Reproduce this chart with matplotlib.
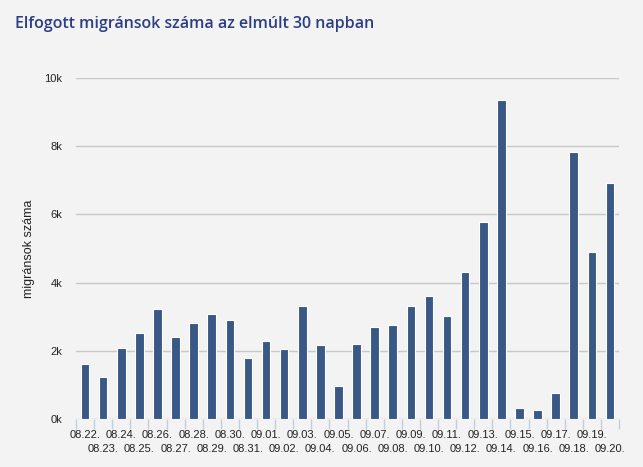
import matplotlib.pyplot as plt
import numpy as np

dates = ['08.22.', '08.23.', '08.24.', '08.25.', '08.26.', '08.27.', '08.28.', '08.29.',
         '08.30.', '08.31.', '09.01.', '09.02.', '09.03.', '09.04.', '09.05.', '09.06.',
         '09.07.', '09.08.', '09.09.', '09.10.', '09.11.', '09.12.', '09.13.', '09.14.',
         '09.15.', '09.16.', '09.17.', '09.18.', '09.19.', '09.20.']
migrants = [1620, 1220, 2070, 2520, 3240, 2400, 2810, 3080, 2900, 1780, 2280, 2040,
            3310, 2160, 980, 2190, 2690, 2750, 3310, 3610, 3020, 4300, 5770, 9360,
            330, 250, 750, 7830, 4890, 6920]
y_ticks = [0, 2000, 4000, 6000, 8000, 10000]
y_labels = ['0k', '2k', '4k', '6k', '8k', '10k']

plt.rcParams['font.family'] = ['Liberation Sans', 'DejaVu Sans']

bg = '#f3f3f3'
fig = plt.figure(figsize=(6.43, 4.67), dpi=100, facecolor=bg)
ax = fig.add_axes([76 / 643, 48 / 467, 543 / 643, 341 / 467], facecolor=bg)

x = np.arange(len(dates))
ax.bar(x, migrants, width=0.47, color='#3a5886', edgecolor='white', linewidth=0.8, zorder=3)

ax.set_xlim(-0.5, len(dates) - 0.5)
ax.set_ylim(0, 10000)
ax.set_yticks(y_ticks)
ax.set_yticklabels(y_labels, fontsize=8)
ax.grid(axis='y', color='#c8c8c8', linewidth=1, zorder=0)
for s in ax.spines.values():
    s.set_visible(False)
ax.tick_params(axis='y', length=0, pad=10, labelcolor='#222222')

# tick marks at category boundaries, labels in two rows
ax.set_xticks(np.arange(-0.5, len(dates)))
ax.set_xticklabels([])
ax.tick_params(axis='x', length=7.2, color='#c0cfe0', width=1)
for i, d in enumerate(dates):
    ax.annotate(d, xy=(i, 0), xycoords=('data', 'axes fraction'),
                xytext=(0, -11.5 if i % 2 == 0 else -21.6), textcoords='offset points',
                ha='center', va='center', fontsize=8, color='#222222')

ax.set_ylabel('migránsok száma', fontsize=9, color='#222222')
ax.yaxis.set_label_coords(-(76 - 35) / 543, 0.5)

fig.text(15 / 643, 1 - 24 / 467, 'Elfogott migránsok száma az elmúlt 30 napban',
         fontsize=11.5, color='#2b3e84', family='Open Sans', fontweight='semibold',
         va='center', ha='left')

fig.savefig('out.png', dpi=100, facecolor=bg)
